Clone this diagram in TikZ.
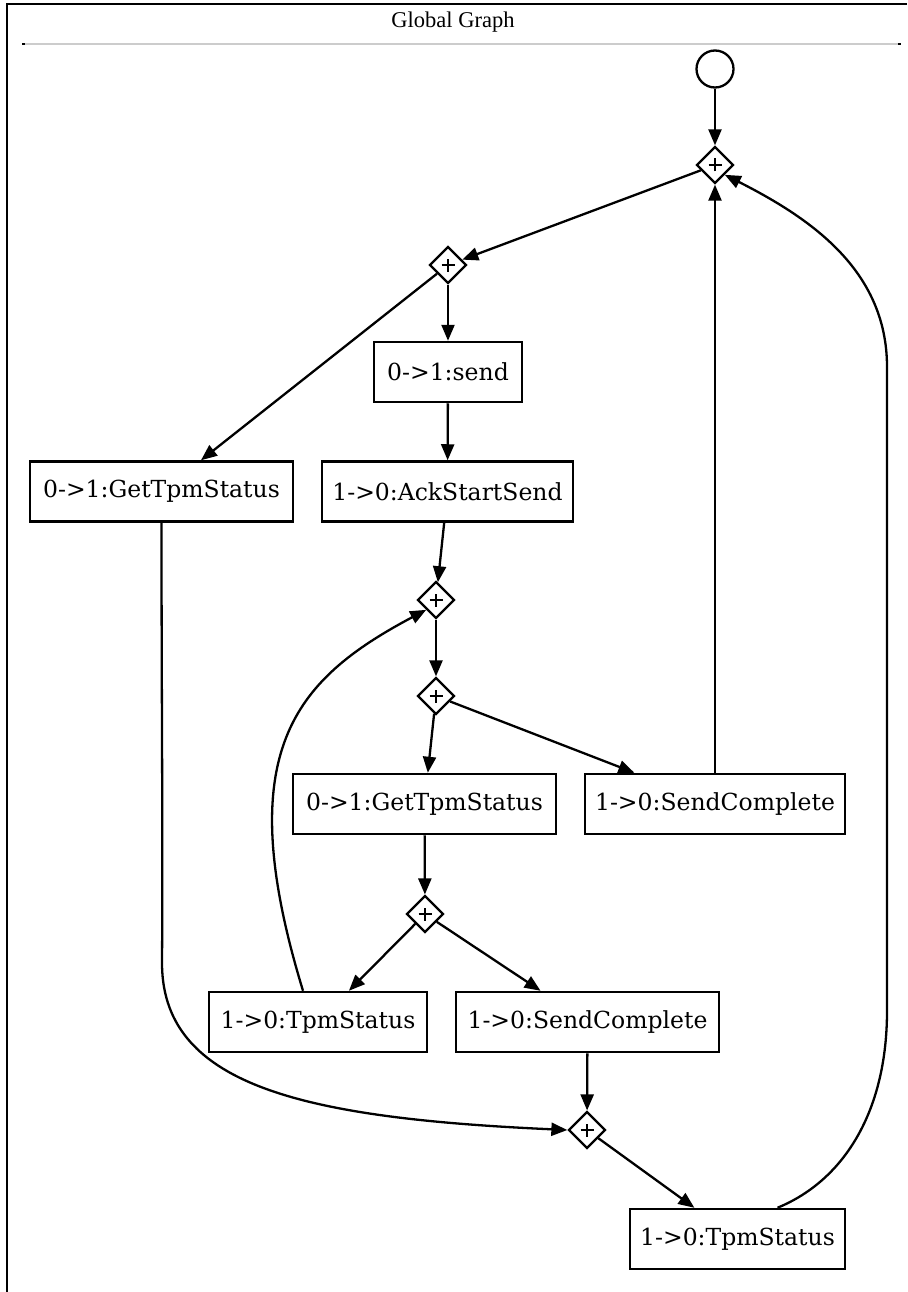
\documentclass[tikz,border=0pt]{standalone}
\usepackage{fontspec}
\setmainfont{DejaVu Serif}
\newfontfamily\titlefont{Liberation Serif}
\usetikzlibrary{shapes.geometric,arrows.meta}

\begin{document}
\begin{tikzpicture}[x=1pt,y=-1pt,
  every node/.style={font=\fontsize{23.5}{27}\selectfont},
  stepbox/.style={draw,line width=2.5pt,rectangle,minimum height=60pt,inner sep=0pt},
  gate/.style={draw,line width=2.3pt,diamond,shape aspect=1,minimum width=37pt,minimum height=37pt,inner sep=0pt,
    path picture={\draw[line width=2pt]
      ([xshift=-6.5pt]path picture bounding box.center) -- ([xshift=6.5pt]path picture bounding box.center)
      ([yshift=-6.5pt]path picture bounding box.center) -- ([yshift=6.5pt]path picture bounding box.center);}},
  startnode/.style={draw,circle,line width=2.3pt,minimum size=37pt,inner sep=0pt},
  flow/.style={line width=2.3pt,-{Triangle[length=16pt,width=13pt]}}
]
\useasboundingbox (0,0) rectangle (907,1292);

% frame and title bar
\draw[line width=2.2pt] (907,4) -- (7,4) -- (7,1292);
\draw[line width=1.8pt, black!20] (22,44) -- (901,44);
\draw[line width=1.8pt] (22,44) -- (25,44) (898,44) -- (901,44);
\node[font=\titlefont\fontsize{22.5}{26}\selectfont] (title) at (453,22) {Global Graph};

% nodes
\node[startnode] (start) at (715,69) {};
\node[gate] (g1) at (715,165) {};
\node[gate] (g2) at (448,265) {};
\node[stepbox,minimum width=148pt] (send) at (448,372) {0->1:send};
\node[stepbox,minimum width=263pt] (getA) at (161.5,491.5) {0->1:GetTpmStatus};
\node[stepbox,minimum width=251pt] (ack) at (447.5,491.5) {1->0:AckStartSend};
\node[gate] (g3) at (436,600) {};
\node[gate] (g4) at (436,696) {};
\node[stepbox,minimum width=263pt] (getB) at (424.5,804) {0->1:GetTpmStatus};
\node[stepbox,minimum width=260pt] (doneA) at (715,804) {1->0:SendComplete};
\node[gate] (g5) at (425,914) {};
\node[stepbox,minimum width=218pt] (tpmA) at (318,1022) {1->0:TpmStatus};
\node[stepbox,minimum width=263pt] (doneB) at (587.5,1022) {1->0:SendComplete};
\node[gate] (g6) at (587,1130) {};
\node[stepbox,minimum width=215pt] (tpmB) at (737.5,1239) {1->0:TpmStatus};

% straight connectors
\draw[flow] (start) -- (g1);
\draw[flow] (g1) -- (g2);
\draw[flow] (g2) -- (send);
\draw[flow] (g2) -- (getA);
\draw[flow] (send) -- (ack);
\draw[flow] (ack) -- (g3);
\draw[flow] (g3) -- (g4);
\draw[flow] (g4) -- (getB);
\draw[flow] (g4) -- (doneA);
\draw[flow] (doneA) -- (g1);
\draw[flow] (getB) -- (g5);
\draw[flow] (g5) -- (tpmA);
\draw[flow] (g5) -- (doneB);
\draw[flow] (doneB) -- (g6);
\draw[flow] (g6) -- (tpmB);

% curved connectors
\draw[flow] ([xshift=-15pt]tpmA.north) .. controls (230,752) and (294,680) .. (g3.south west);
\draw[flow] (getA.south) .. controls (161.5,700) and (163,850) .. (162,960)
  .. controls (160,1085) and (300,1118) .. (g6.west);
\draw[flow] ([xshift=40pt]tpmB.north) .. controls (845,1180) and (887,1110) .. (887,1011)
  -- (887,367) .. controls (887,270) and (810,218) .. (g1.south east);
\end{tikzpicture}
\end{document}
